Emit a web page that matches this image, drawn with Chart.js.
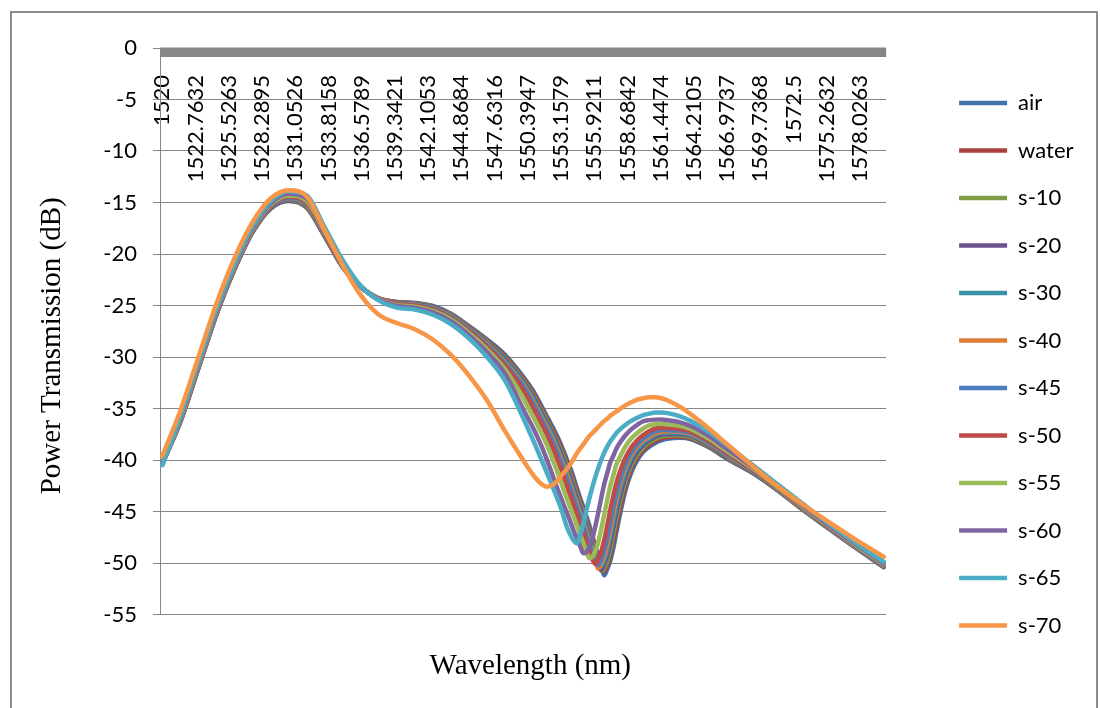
<!DOCTYPE html>
<html>
<head>
<meta charset="utf-8">
<script src="https://cdn.jsdelivr.net/npm/chart.js@4.4.1/dist/chart.umd.min.js"></script>
<style>
  html, body { margin: 0; padding: 0; background: #fff; }
  #wrap { width: 1100px; height: 708px; }
</style>
</head>
<body>
<div id="wrap"><canvas id="chart" width="1100" height="708"></canvas></div>
<script>
// Sample wavelengths (nm) shared by every series
const wavelengths = [1520, 1521.5, 1523, 1524.5, 1526, 1527.5, 1529, 1530.5, 1532, 1533.5, 1535, 1536.5, 1538, 1539.5, 1541, 1542.5, 1544, 1545.5, 1547, 1548.5,
  1550, 1550.5, 1551, 1551.5, 1552, 1552.5,
  1553, 1553.25, 1553.5, 1553.75, 1554, 1554.25, 1554.5, 1554.75, 1555, 1555.25, 1555.5, 1555.75, 1556, 1556.25, 1556.5, 1556.75, 1557, 1557.25, 1557.5, 1557.75, 1558,
  1558.5, 1559, 1559.5, 1560, 1560.5, 1561, 1561.5, 1562,
  1563, 1564, 1565.5, 1567, 1569, 1571, 1573, 1575, 1577.5, 1580];

// Category labels printed along the wavelength axis
const tickLabels = ['1520', '1522.7632', '1525.5263', '1528.2895', '1531.0526', '1533.8158', '1536.5789', '1539.3421',
  '1542.1053', '1544.8684', '1547.6316', '1550.3947', '1553.1579', '1555.9211', '1558.6842', '1561.4474',
  '1564.2105', '1566.9737', '1569.7368', '1572.5', '1575.2632', '1578.0263'];

const seriesNames = ['air', 'water', 's-10', 's-20', 's-30', 's-40', 's-45', 's-50', 's-55', 's-60', 's-65', 's-70'];

// Power transmission (dB) per series
const airValues = [-40.3, -36.3, -31.1, -25.9, -21.5, -17.9, -15.6, -14.85, -15.5, -18.3, -21.3, -23.2, -24.3, -24.65, -24.75, -25.05, -25.8, -27.0, -28.3, -29.8,
  -31.9, -32.7, -33.6, -34.7, -35.8, -36.9,
  -38.1, -38.8, -39.5, -40.3, -41.0, -41.9, -42.8, -43.7, -44.5, -45.4, -46.3, -47.3, -48.3, -49.3, -50.3, -51.2, -50.6, -49.8, -48.6, -47.1, -45.6,
  -43.0, -41.2, -40.0, -39.2, -38.7, -38.35, -38.1, -37.95,
  -37.85, -38.0, -38.8, -39.9, -41.2, -42.8, -44.6, -46.3, -48.4, -50.4];

const waterValues = [-40.3, -36.26, -31.06, -25.86, -21.46, -17.86, -15.56, -14.79, -15.43, -18.25, -21.26, -23.19, -24.31, -24.68, -24.79, -25.1, -25.86, -27.07, -28.4, -29.95,
  -32.05, -32.87, -33.81, -34.91, -36.01, -37.13,
  -38.37, -39.07, -39.81, -40.57, -41.35, -42.25, -43.14, -44.0, -44.83, -45.72, -46.65, -47.63, -48.59, -49.57, -50.52, -50.82, -50.16, -49.22, -47.92, -46.43, -45.01,
  -42.56, -40.87, -39.74, -38.99, -38.5, -38.16, -37.91, -37.8,
  -37.72, -37.89, -38.71, -39.82, -41.15, -42.76, -44.56, -46.27, -48.37, -50.37];

const s10Values = [-40.32, -36.23, -31.03, -25.83, -21.43, -17.83, -15.52, -14.74, -15.36, -18.19, -21.22, -23.19, -24.32, -24.72, -24.83, -25.15, -25.92, -27.14, -28.5, -30.1,
  -32.21, -33.05, -34.03, -35.13, -36.23, -37.37,
  -38.65, -39.35, -40.13, -40.85, -41.7, -42.59, -43.48, -44.3, -45.16, -46.04, -46.99, -47.96, -48.92, -49.88, -50.77, -50.51, -49.78, -48.7, -47.28, -45.77, -44.42,
  -42.12, -40.54, -39.48, -38.77, -38.29, -37.96, -37.72, -37.65,
  -37.6, -37.79, -38.62, -39.74, -41.1, -42.73, -44.53, -46.24, -48.34, -50.34];

const s20Values = [-40.34, -36.19, -30.99, -25.79, -21.39, -17.79, -15.47, -14.68, -15.28, -18.14, -21.17, -23.18, -24.34, -24.75, -24.87, -25.2, -25.98, -27.22, -28.61, -30.25,
  -32.36, -33.22, -34.24, -35.34, -36.44, -37.6,
  -38.92, -39.64, -40.42, -41.15, -42.04, -42.93, -43.8, -44.6, -45.47, -46.36, -47.31, -48.26, -49.19, -50.12, -50.69, -50.11, -49.29, -48.09, -46.62, -45.14, -43.82,
  -41.67, -40.19, -39.2, -38.54, -38.08, -37.76, -37.54, -37.5,
  -37.47, -37.68, -38.53, -39.67, -41.06, -42.69, -44.49, -46.21, -48.31, -50.31];

const s30Values = [-40.35, -36.16, -30.96, -25.76, -21.36, -17.76, -15.43, -14.62, -15.21, -18.08, -21.13, -23.18, -24.35, -24.78, -24.91, -25.25, -26.04, -27.29, -28.71, -30.4,
  -32.52, -33.4, -34.46, -35.56, -36.66, -37.84,
  -39.2, -39.96, -40.69, -41.5, -42.39, -43.27, -44.09, -44.92, -45.77, -46.69, -47.62, -48.55, -49.48, -50.4, -50.35, -49.74, -48.77, -47.46, -45.95, -44.54, -43.22,
  -41.22, -39.85, -38.93, -38.32, -37.89, -37.57, -37.36, -37.35,
  -37.35, -37.58, -38.44, -39.59, -41.01, -42.66, -44.46, -46.18, -48.28, -50.28];

const s40Values = [-40.36, -36.13, -30.93, -25.73, -21.33, -17.73, -15.4, -14.57, -15.15, -18.04, -21.1, -23.17, -24.36, -24.81, -24.94, -25.3, -26.09, -27.35, -28.79, -30.53,
  -32.67, -33.57, -34.67, -35.77, -36.87, -38.07,
  -39.47, -40.27, -40.96, -41.85, -42.73, -43.6, -44.37, -45.24, -46.07, -47.01, -47.9, -48.81, -49.73, -50.55, -50.05, -49.34, -48.24, -46.81, -45.29, -43.97, -42.64,
  -40.79, -39.54, -38.68, -38.13, -37.73, -37.43, -37.25, -37.22,
  -37.24, -37.49, -38.36, -39.52, -40.97, -42.63, -44.43, -46.15, -48.25, -50.25];

const s45Values = [-40.37, -36.1, -30.9, -25.7, -21.3, -17.7, -15.36, -14.53, -15.09, -17.99, -21.06, -23.17, -24.37, -24.84, -24.97, -25.34, -26.14, -27.41, -28.88, -30.65,
  -32.84, -33.78, -34.88, -35.98, -37.1, -38.34,
  -39.78, -40.54, -41.31, -42.19, -43.06, -43.88, -44.68, -45.53, -46.39, -47.3, -48.17, -49.06, -49.91, -50.19, -49.64, -48.79, -47.59, -46.15, -44.7, -43.36, -42.19,
  -40.44, -39.26, -38.46, -37.91, -37.52, -37.23, -37.09, -37.1,
  -37.14, -37.4, -38.29, -39.46, -40.93, -42.6, -44.4, -46.13, -48.23, -50.23];

const s50Values = [-40.38, -36.05, -30.85, -25.65, -21.25, -17.65, -15.31, -14.45, -15.0, -17.92, -21.01, -23.16, -24.38, -24.88, -25.02, -25.41, -26.22, -27.5, -29.01, -30.85,
  -33.19, -34.21, -35.31, -36.41, -37.57, -38.89,
  -40.39, -41.12, -42.0, -42.87, -43.7, -44.48, -45.31, -46.15, -47.03, -47.9, -48.73, -49.58, -50.09, -49.62, -48.89, -47.77, -46.35, -44.87, -43.54, -42.28, -41.34,
  -39.82, -38.78, -38.08, -37.57, -37.21, -36.94, -36.87, -36.9,
  -36.97, -37.26, -38.17, -39.35, -40.86, -42.55, -44.35, -46.09, -48.19, -50.19];

const s55Values = [-40.41, -35.96, -30.76, -25.56, -21.16, -17.56, -15.21, -14.32, -14.83, -17.8, -20.91, -23.14, -24.41, -24.96, -25.11, -25.53, -26.36, -27.67, -29.25, -31.2,
  -33.97, -35.07, -36.17, -37.31, -38.59, -40.07,
  -41.62, -42.45, -43.3, -44.04, -44.85, -45.6, -46.44, -47.25, -48.02, -48.8, -49.54, -49.42, -48.86, -47.99, -46.72, -45.3, -43.9, -42.55, -41.52, -40.48, -39.85,
  -38.71, -37.92, -37.37, -36.94, -36.63, -36.53, -36.48, -36.55,
  -36.67, -37.02, -37.96, -39.17, -40.75, -42.46, -44.26, -46.02, -48.12, -50.12];

const s60Values = [-40.45, -35.86, -30.66, -25.46, -21.06, -17.46, -15.09, -14.16, -14.62, -17.64, -20.79, -23.13, -24.45, -25.05, -25.23, -25.67, -26.53, -27.88, -29.54, -31.63,
  -35.04, -36.14, -37.28, -38.56, -40.04, -41.62,
  -43.22, -43.94, -44.72, -45.42, -46.2, -47.0, -47.65, -48.35, -49.05, -48.97, -48.51, -47.69, -46.5, -45.15, -43.71, -42.35, -41.3, -40.25, -39.61, -38.94, -38.43,
  -37.62, -37.02, -36.58, -36.24, -36.13, -36.08, -36.07, -36.13,
  -36.32, -36.72, -37.7, -38.95, -40.62, -42.36, -44.16, -45.94, -48.03, -50.03];

const s65Values = [-40.5, -35.7, -30.5, -25.3, -20.9, -17.3, -14.9, -13.9, -14.3, -17.4, -20.6, -23.1, -24.5, -25.2, -25.4, -25.9, -26.8, -28.2, -30.0, -32.3,
  -35.9, -37.2, -38.5, -39.9, -41.3, -42.7,
  -44.2, -45.0, -46.0, -46.8, -47.4, -47.9, -48.1, -47.3, -46.2, -45.0, -43.8, -42.7, -41.7, -40.8, -40.0, -39.3, -38.7, -38.2, -37.8, -37.4, -37.1,
  -36.6, -36.2, -35.9, -35.65, -35.5, -35.4, -35.4, -35.45,
  -35.75, -36.25, -37.3, -38.6, -40.4, -42.2, -44.0, -45.8, -47.9, -49.9];

const s70Values = [-39.6, -35.2, -30.0, -24.8, -20.4, -16.9, -14.6, -13.8, -14.4, -17.7, -21.1, -24.0, -25.9, -26.7, -27.3, -28.3, -29.8, -31.8, -34.2, -37.2,
  -40.0, -40.9, -41.7, -42.3, -42.6, -42.4,
  -41.8, -41.4, -41.1, -40.7, -40.3, -39.8, -39.3, -38.9, -38.5, -38.1, -37.7, -37.4, -37.1, -36.8, -36.5, -36.2, -36.0, -35.7, -35.5, -35.3, -35.1,
  -34.7, -34.4, -34.15, -34.0, -33.9, -33.9, -34.0, -34.2,
  -34.8, -35.6, -37.0, -38.5, -40.5, -42.4, -44.1, -45.7, -47.6, -49.4];

const seriesValues = [airValues, waterValues, s10Values, s20Values, s30Values, s40Values,
  s45Values, s50Values, s55Values, s60Values, s65Values, s70Values];

const seriesColors = ['#4371A9', '#A9423F', '#7E9B45', '#69528E', '#3990A9', '#DE7E36',
  '#4A7EBF', '#BE4B48', '#9BBB59', '#8064A2', '#4BACC6', '#F79646'];

const axisGray = '#868686';
const tickFont = { family: 'Lato', size: 22 };
const serifFont = { family: 'Liberation Serif', size: 29, weight: 'normal', lineHeight: 1.0 };

// Later series are painted on top of earlier ones
const datasets = seriesNames.map((name, i) => ({
  label: name,
  data: seriesValues[i].map((v, k) => ({ x: wavelengths[k], y: v })),
  borderColor: seriesColors[i],
  backgroundColor: seriesColors[i],
  borderWidth: 4.5,
  borderCapStyle: 'round',
  borderJoinStyle: 'round',
  pointRadius: 0,
  cubicInterpolationMode: 'monotone',
  fill: false,
  order: seriesNames.length - 1 - i
}));

// Outer frame and the heavy horizontal axis bar at 0 dB
const framePlugin = {
  id: 'frame',
  beforeDraw(chart) {
    const ctx = chart.ctx;
    ctx.save();
    ctx.fillStyle = '#ffffff';
    ctx.fillRect(0, 0, chart.width, chart.height);
    ctx.strokeStyle = '#8c8c8c';
    ctx.lineWidth = 2;
    ctx.strokeRect(11, 12, 1086, chart.height + 20);
    ctx.restore();
  },
  afterDatasetsDraw(chart) {
    const { ctx, chartArea, scales } = chart;
    const y0 = scales.y.getPixelForValue(0);
    ctx.save();
    ctx.fillStyle = axisGray;
    ctx.fillRect(chartArea.left, y0 - 0.5, chartArea.right - chartArea.left, 9.5);
    ctx.restore();
  }
};

new Chart(document.getElementById('chart'), {
  type: 'line',
  data: { datasets },
  plugins: [framePlugin],
  options: {
    responsive: false,
    animation: false,
    events: [],
    layout: { padding: { top: 48, right: 16.5, bottom: 27.5, left: 0 } },
    scales: {
      x: {
        type: 'linear',
        position: { y: 0 },
        min: 1519.8026,
        max: 1580.1974,
        afterBuildTicks(scale) {
          scale.ticks = tickLabels.map(t => ({ value: Number(t) }));
        },
        ticks: {
          autoSkip: false,
          minRotation: 90,
          maxRotation: 90,
          padding: 27,
          font: tickFont,
          color: '#000',
          callback: (value, index) => tickLabels[index]
        },
        grid: { display: false, drawTicks: false },
        border: { display: false }
      },
      y: {
        type: 'linear',
        position: 'left',
        min: -55,
        max: 0,
        afterFit(scale) { scale.width = 160; },
        ticks: { stepSize: 5, padding: 16, font: tickFont, color: '#000' },
        grid: { color: axisGray, lineWidth: 1, tickLength: 7, tickColor: axisGray, drawTicks: true },
        border: { display: true, color: axisGray, width: 1 },
        title: {
          display: true,
          text: 'Power Transmission (dB)    ',
          font: serifFont,
          color: '#000',
          padding: { top: 37.5, bottom: 0 }
        }
      },
      gap: {
        type: 'linear',
        position: 'right',
        display: true,
        afterFit(scale) { scale.width = 47.5; },
        ticks: { display: false },
        grid: { display: false, drawTicks: false },
        border: { display: false }
      }
    },
    plugins: {
      legend: {
        position: 'right',
        align: 'center',
        labels: {
          usePointStyle: true,
          pointStyle: 'line',
          pointStyleWidth: 48,
          padding: 25.5,
          font: tickFont,
          color: '#000',
          sort: (a, b) => a.datasetIndex - b.datasetIndex
        }
      },
      title: {
        display: true,
        position: 'bottom',
        fullSize: false,
        text: '  Wavelength (nm)',
        font: serifFont,
        color: '#000',
        padding: { top: 37, bottom: 0 }
      },
      tooltip: { enabled: false }
    }
  }
});
</script>
</body>
</html>
